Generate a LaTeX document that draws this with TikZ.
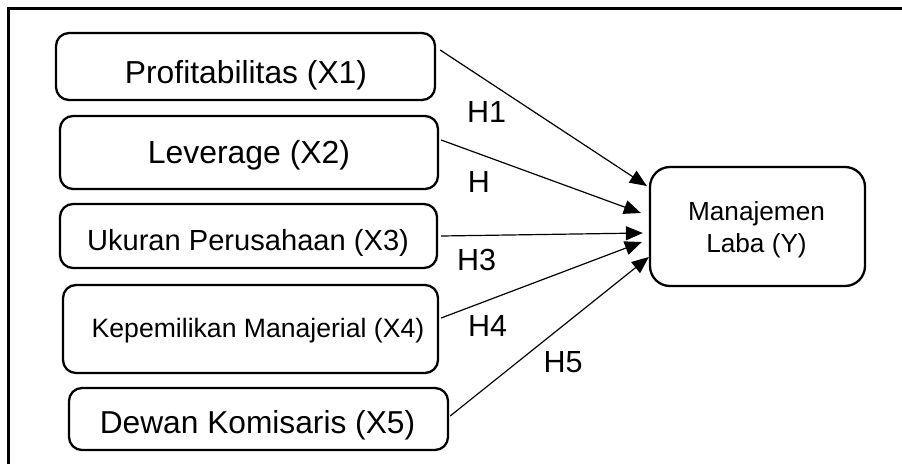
\documentclass[tikz,border=0pt]{standalone}
\usepackage{fontspec}
\setmainfont{Liberation Sans}
\usetikzlibrary{arrows.meta}
\begin{document}
\begin{tikzpicture}[x=1pt,y=-1pt,
  varbox/.style={draw,line width=2.3pt,rounded corners=13pt,minimum width=#1,inner sep=0pt},
  txt/.style={anchor=base,inner sep=0pt,font=\fontsize{#1}{#1}\selectfont},
  hyp/.style={anchor=base,inner sep=0pt,font=\fontsize{30.5}{30.5}\selectfont},
  link/.style={line width=1.2pt,-{Triangle[length=17pt,width=14pt]}}]
\useasboundingbox (0,0) rectangle (902,464);
% open frame: top and left edges
\draw[line width=2.6pt] (8.5,464) -- (8.5,8.5) -- (902,8.5);

% independent variables
\node[varbox=379pt,minimum height=67pt] (b1) at (245.5,66.5) {};
\node[varbox=378pt,minimum height=73pt] (b2) at (249,152.5) {};
\node[varbox=377pt,minimum height=64pt] (b3) at (248.5,236) {};
\node[varbox=375pt,minimum height=88pt] (b4) at (250.5,329) {};
\node[varbox=379pt,minimum height=62pt] (b5) at (258.5,419) {};
\node[txt=31.8] (t1) at (246,83) {Profitabilitas (X1)};
\node[txt=31.9] (t2) at (249,163) {Leverage (X2)};
\node[txt=29.1] (t3) at (248,250) {Ukuran Perusahaan (X3)};
\node[txt=26.6] (t4) at (258,337) {Kepemilikan Manajerial (X4)};
\node[txt=31.7] (t5) at (257.5,433) {Dewan Komisaris (X5)};

% dependent variable
\node[draw,line width=2.3pt,rounded corners=20pt,minimum width=215pt,minimum height=119pt,inner sep=0pt] (y) at (757.5,226.5) {};
\node[txt=26.2] (ty1) at (756.5,220) {Manajemen};
\node[txt=26.2] (ty2) at (756.5,252) {Laba (Y)};

% hypothesised paths
\draw[link] ([xshift=4pt,yshift=16.5pt]b1.east) -- ([xshift=-2pt,yshift=40.5pt]y.west);
\draw[link] ([xshift=2pt,yshift=12.5pt]b2.east) -- ([xshift=-8pt,yshift=13.5pt]y.west);
\draw[link] ([xshift=3pt]b3.east) -- ([xshift=-6pt,yshift=-6.5pt]y.west);
\draw[link] ([xshift=2pt,yshift=11pt]b4.east) -- ([xshift=-7pt,yshift=-15.5pt]y.west);
\draw[link] ([xshift=1pt,yshift=3pt]b5.east) -- ([yshift=-30.5pt]y.west);

% hypothesis labels
\node[hyp] (h1) at (486.5,122) {H1};
\node[hyp] (h2) at (479,192) {H};
\node[hyp] (h3) at (476.5,270) {H3};
\node[hyp] (h4) at (487.5,336) {H4};
\node[hyp] (h5) at (563,372) {H5};
\end{tikzpicture}
\end{document}
